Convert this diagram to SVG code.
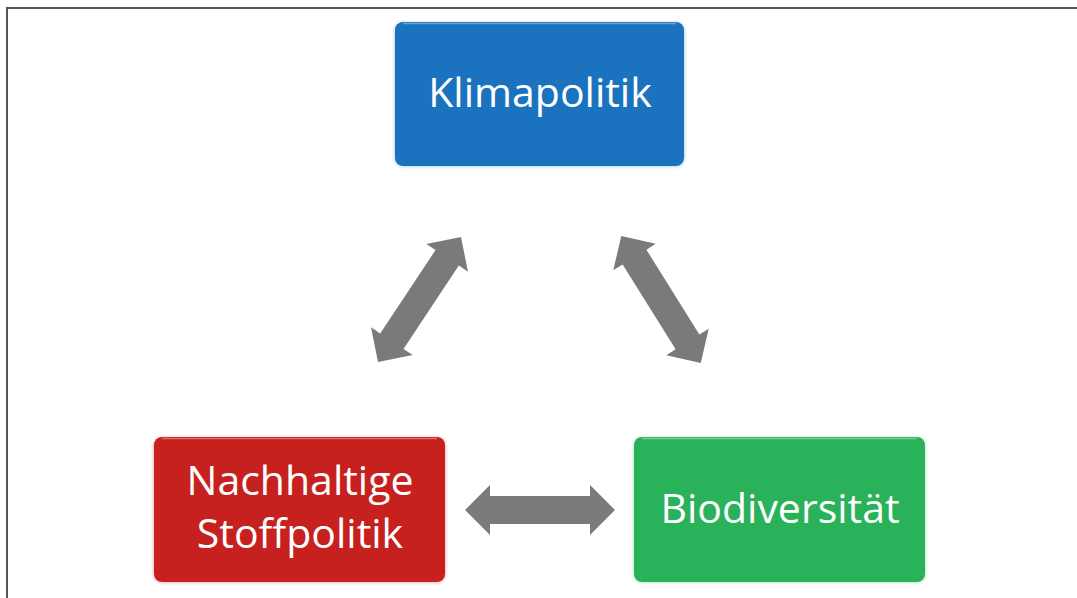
<svg xmlns="http://www.w3.org/2000/svg" width="1077" height="598" viewBox="0 0 1077 598">
  <defs>
    <style>
      .frame { stroke: #555; stroke-width: 2; fill: none; }
      .box { stroke: none; }
      .hl { fill: none; stroke: #ffffff; stroke-opacity: 0.35; stroke-width: 1.5; }
      .label { font-family: "Open Sans", "Noto Sans", sans-serif; font-size: 41px; fill: #ffffff; text-anchor: middle; }
      .arrow { fill: #7a7a7a; }
    </style>
    <path id="dblArrow" d="M -75 0 L -50 -25 L -50 -14 L 50 -14 L 50 -25 L 75 0 L 50 25 L 50 14 L -50 14 L -50 25 Z"/>
    <filter id="soft" x="-10%" y="-10%" width="120%" height="120%">
      <feGaussianBlur stdDeviation="1.5"/>
    </filter>
  </defs>
  <rect width="1077" height="598" fill="#ffffff"/>
  <path class="frame" d="M 7 598 L 7 8 L 1077 8"/>

  <g id="connectors">
    <use href="#dblArrow" class="arrow" transform="translate(419.5 299.5) rotate(-56.4)"/>
    <use href="#dblArrow" class="arrow" transform="translate(661 299.5) rotate(58)"/>
    <use href="#dblArrow" class="arrow" transform="translate(540 510)"/>
  </g>

  <g id="klimapolitik">
    <rect x="394" y="22" width="291" height="145" rx="9" fill="#bcd6ee" filter="url(#soft)"/>
    <rect class="box" x="395" y="22" width="289" height="144" rx="8" fill="#1b73bf"/>
    <path class="hl" d="M 403 23.5 L 676 23.5"/>
    <text class="label" x="540" y="107">Klimapolitik</text>
  </g>

  <g id="stoffpolitik">
    <rect x="153" y="437" width="293" height="146" rx="9" fill="#eebcbc" filter="url(#soft)"/>
    <rect class="box" x="154" y="437" width="291" height="145" rx="8" fill="#c7211f"/>
    <path class="hl" d="M 162 438.5 L 437 438.5"/>
    <text class="label" x="300" y="495">Nachhaltige</text>
    <text class="label" x="300" y="548">Stoffpolitik</text>
  </g>

  <g id="biodiversitaet">
    <rect x="633" y="437" width="293" height="146" rx="9" fill="#bfe8cc" filter="url(#soft)"/>
    <rect class="box" x="634" y="437" width="291" height="145" rx="8" fill="#2ab25b"/>
    <path class="hl" d="M 642 438.5 L 917 438.5"/>
    <text class="label" x="780" y="523">Biodiversität</text>
  </g>
</svg>
